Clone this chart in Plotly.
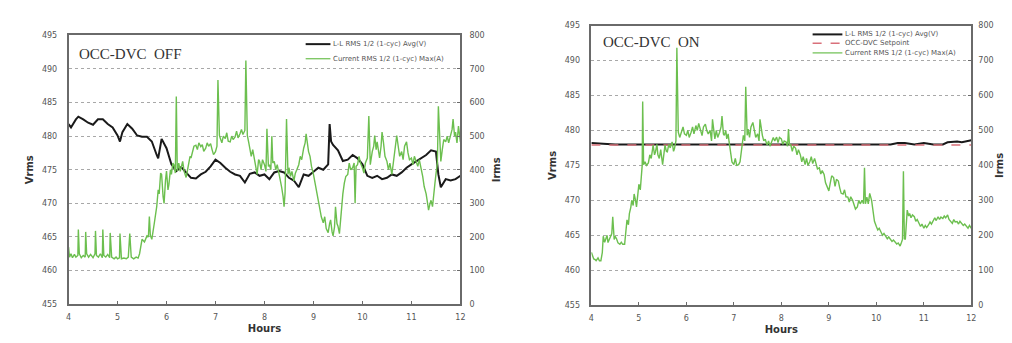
import plotly.graph_objects as go

# ---------------- DATA ----------------
# OCC-DVC OFF : voltage (Vrms, left axis)
off_v_t = [4.0, 4.05, 4.15, 4.2, 4.3, 4.4, 4.5, 4.6, 4.7, 4.8, 4.9, 5.0, 5.05, 5.1, 5.2, 5.3, 5.4, 5.5,
           5.6, 5.7, 5.8, 5.83, 5.9, 6.0, 6.1, 6.2, 6.3, 6.4, 6.5, 6.6, 6.7, 6.8, 6.9, 7.0, 7.1, 7.2,
           7.3, 7.4, 7.5, 7.6, 7.7, 7.8, 7.9, 8.0, 8.1, 8.2, 8.3, 8.4, 8.5, 8.6, 8.7, 8.8, 8.9, 9.0,
           9.1, 9.2, 9.3, 9.33, 9.36, 9.4, 9.5, 9.6, 9.7, 9.8, 9.9, 10.0, 10.1, 10.2, 10.3, 10.4,
           10.5, 10.6, 10.7, 10.8, 10.9, 11.0, 11.1, 11.2, 11.3, 11.4, 11.5, 11.55, 11.6, 11.7,
           11.8, 11.9, 12.0]
off_v = [481.8, 481.3, 482.5, 482.9, 482.5, 482.0, 481.7, 482.5, 482.5, 481.8, 481.3, 480.1, 479.2,
         480.6, 481.8, 481.1, 480.1, 479.9, 479.9, 479.2, 477.2, 476.7, 479.6, 478.2, 475.8, 474.8,
         475.4, 474.6, 473.8, 473.7, 474.3, 474.7, 475.5, 476.5, 476.0, 475.3, 474.7, 474.3, 474.1,
         473.1, 474.4, 474.6, 474.1, 474.3, 473.6, 474.6, 474.8, 474.6, 473.8, 473.4, 472.4, 474.3,
         474.1, 474.7, 475.3, 475.0, 475.8, 481.8, 479.2, 478.7, 477.9, 476.3, 476.5, 477.2, 476.7,
         475.8, 474.1, 473.8, 474.1, 473.6, 473.8, 474.3, 474.1, 474.6, 475.3, 475.8, 476.3, 476.7,
         477.2, 477.9, 477.7, 474.3, 472.4, 473.6, 473.4, 473.6, 474.1]

# OCC-DVC OFF : current (Irms, right axis)
off_i_t = [4.00, 4.02, 4.05, 4.08, 4.12, 4.15, 4.19, 4.20, 4.22, 4.26, 4.30, 4.34, 4.35, 4.37, 4.41,
           4.45, 4.50, 4.54, 4.55, 4.57, 4.61, 4.65, 4.69, 4.70, 4.72, 4.76, 4.80, 4.84, 4.85, 4.88,
           4.93, 4.97, 5.00, 5.04, 5.05, 5.08, 5.13, 5.18, 5.22, 5.25, 5.28, 5.33, 5.38, 5.42, 5.45,
           5.50, 5.55, 5.60, 5.63, 5.65, 5.67, 5.70, 5.75, 5.80, 5.83, 5.85, 5.88, 5.90, 5.93, 5.95,
           5.98, 6.00, 6.03, 6.05, 6.08, 6.10, 6.13, 6.15, 6.18, 6.20, 6.22, 6.25, 6.28, 6.30, 6.33,
           6.36, 6.40, 6.43, 6.45, 6.48, 6.50, 6.53, 6.56, 6.60, 6.63, 6.66, 6.70, 6.73, 6.76, 6.80,
           6.83, 6.86, 6.90, 6.93, 6.96, 7.00, 7.03, 7.05, 7.08, 7.10, 7.13, 7.16, 7.20, 7.23, 7.26,
           7.30, 7.33, 7.36, 7.40, 7.43, 7.46, 7.50, 7.53, 7.56, 7.60, 7.62, 7.65, 7.68, 7.70, 7.73,
           7.76, 7.80, 7.83, 7.85, 7.88, 7.90, 7.93, 7.96, 8.00, 8.03, 8.05, 8.08, 8.10, 8.13, 8.15,
           8.17, 8.20, 8.23, 8.26, 8.30, 8.33, 8.35, 8.38, 8.40, 8.42, 8.45, 8.48, 8.50, 8.53, 8.56,
           8.60, 8.63, 8.66, 8.70, 8.73, 8.76, 8.80, 8.83, 8.85, 8.88, 8.90, 8.93, 8.96, 9.00, 9.03,
           9.06, 9.10, 9.13, 9.16, 9.20, 9.23, 9.26, 9.30, 9.33, 9.35, 9.38, 9.40, 9.43, 9.45, 9.48,
           9.50, 9.53, 9.55, 9.58, 9.60, 9.63, 9.66, 9.70, 9.73, 9.76, 9.80, 9.83, 9.85, 9.87, 9.90,
           9.93, 9.96, 10.00, 10.03, 10.06, 10.10, 10.13, 10.16, 10.20, 10.23, 10.25, 10.28, 10.30,
           10.33, 10.35, 10.38, 10.40, 10.43, 10.46, 10.50, 10.53, 10.56, 10.60, 10.63, 10.66, 10.70,
           10.73, 10.76, 10.80, 10.83, 10.86, 10.90, 10.93, 10.96, 11.00, 11.03, 11.06, 11.10, 11.13,
           11.16, 11.20, 11.23, 11.26, 11.30, 11.33, 11.35, 11.38, 11.40, 11.43, 11.45, 11.48, 11.50,
           11.53, 11.55, 11.58, 11.60, 11.63, 11.66, 11.70, 11.73, 11.76, 11.80, 11.83, 11.85, 11.88,
           11.90, 11.93, 11.96, 12.00]
off_i = [170, 140, 150, 138, 148, 140, 145, 222, 150, 138, 145, 140, 215, 150, 140,
         148, 138, 150, 218, 145, 140, 150, 138, 222, 145, 140, 148, 138, 212, 140,
         135, 140, 135, 138, 210, 135, 137, 135, 140, 210, 140, 135, 140, 137, 150,
         193, 185, 203, 200, 261, 205, 193, 240, 290, 340, 328, 390, 386, 320, 300,
         370, 396, 340, 357, 400, 386, 420, 415, 390, 618, 396, 420, 395, 406, 425,
         395, 377, 400, 415, 440, 435, 455, 470, 473, 460, 480, 469, 475, 455, 464,
         480, 470, 478, 460, 445, 454, 470, 667, 502, 493, 480, 500, 493, 510, 485,
         483, 500, 490, 498, 515, 495, 507, 520, 505, 517, 725, 502, 480, 464, 440,
         460, 425, 410, 386, 430, 425, 400, 430, 415, 395, 522, 410, 415, 400, 500,
         420, 425, 400, 415, 386, 370, 348, 320, 290, 330, 551, 386, 406, 380, 395,
         367, 390, 400, 415, 440, 430, 464, 480, 507, 470, 454, 440, 410, 386, 360,
         340, 309, 280, 260, 242, 260, 225, 213, 240, 251, 215, 203, 230, 290, 240,
         232, 210, 251, 300, 328, 360, 380, 386, 420, 400, 406, 420, 300, 410, 415,
         440, 420, 406, 390, 420, 435, 560, 415, 454, 470, 502, 460, 483,
         450, 435, 470, 512, 480, 440, 425, 400, 420, 386, 420, 450, 502,
         470, 440, 454, 430, 470, 483, 450, 430, 435, 415, 440, 425, 410,
         430, 406, 380, 350, 328, 300, 280, 300, 309, 290, 328, 360, 386,
         420, 589, 464, 425, 460, 490, 483, 500, 480, 502, 520, 551, 500,
         512, 480, 530, 483]

# OCC-DVC ON : voltage and setpoint (Vrms)
on_v_t = [4.0, 4.5, 5.0, 5.5, 6.0, 6.5, 7.0, 7.5, 8.0, 8.5, 9.0, 9.5, 10.0, 10.3, 10.45, 10.6,
          10.8, 11.0, 11.2, 11.4, 11.5, 11.7, 11.8, 11.9, 12.0]
on_v = [478.2, 478.0, 478.0, 478.0, 478.0, 478.0, 478.0, 478.0, 478.0, 478.0, 478.0, 478.0, 478.0,
        478.0, 478.2, 478.2, 478.0, 478.2, 478.0, 478.0, 478.3, 478.4, 478.3, 478.5, 478.6]
on_sp_t = [4.0, 12.0]
on_sp = [477.9, 477.9]

# OCC-DVC ON : current (Irms)
on_i_t = [4.00, 4.02, 4.05, 4.08, 4.10, 4.14, 4.17, 4.20, 4.23, 4.25, 4.28, 4.30, 4.33, 4.35, 4.38,
          4.40, 4.43, 4.45, 4.48, 4.50, 4.53, 4.56, 4.60, 4.63, 4.66, 4.70, 4.73, 4.75, 4.78, 4.80,
          4.83, 4.85, 4.88, 4.90, 4.93, 4.95, 4.98, 5.00, 5.03, 5.05, 5.07, 5.08, 5.10, 5.13, 5.16,
          5.20, 5.23, 5.26, 5.30, 5.33, 5.35, 5.38, 5.40, 5.43, 5.46, 5.50, 5.53, 5.55, 5.58, 5.60,
          5.63, 5.66, 5.70, 5.73, 5.75, 5.78, 5.80, 5.83, 5.86, 5.90, 5.93, 5.96, 6.00, 6.03, 6.06,
          6.10, 6.13, 6.16, 6.20, 6.23, 6.26, 6.30, 6.33, 6.36, 6.40, 6.43, 6.46, 6.50, 6.53, 6.55,
          6.58, 6.60, 6.63, 6.66, 6.70, 6.73, 6.75, 6.78, 6.80, 6.83, 6.85, 6.88, 6.90, 6.93, 6.96,
          7.00, 7.03, 7.06, 7.10, 7.13, 7.16, 7.20, 7.23, 7.25, 7.28, 7.30, 7.33, 7.36, 7.40, 7.43,
          7.46, 7.50, 7.53, 7.55, 7.58, 7.60, 7.63, 7.66, 7.70, 7.73, 7.76, 7.80, 7.83, 7.86, 7.90,
          7.93, 7.96, 8.00, 8.03, 8.06, 8.10, 8.13, 8.15, 8.17, 8.20, 8.23, 8.26, 8.30, 8.33, 8.36,
          8.40, 8.43, 8.46, 8.50, 8.53, 8.56, 8.60, 8.63, 8.66, 8.70, 8.73, 8.76, 8.80, 8.83, 8.86,
          8.90, 8.93, 8.96, 9.00, 9.03, 9.06, 9.10, 9.13, 9.16, 9.20, 9.23, 9.26, 9.30, 9.33, 9.36,
          9.40, 9.43, 9.46, 9.50, 9.53, 9.56, 9.60, 9.63, 9.66, 9.70, 9.73, 9.75, 9.77, 9.80, 9.83,
          9.86, 9.90, 9.93, 9.96, 10.00, 10.03, 10.06, 10.10, 10.13, 10.16, 10.20, 10.23, 10.26,
          10.30, 10.33, 10.36, 10.40, 10.43, 10.46, 10.50, 10.53, 10.55, 10.57, 10.59, 10.61, 10.63,
          10.65, 10.68, 10.70, 10.73, 10.76, 10.80, 10.83, 10.86, 10.90, 10.93, 10.96, 11.00, 11.03,
          11.06, 11.10, 11.13, 11.16, 11.20, 11.23, 11.26, 11.30, 11.33, 11.36, 11.40, 11.43, 11.46,
          11.50, 11.53, 11.56, 11.60, 11.63, 11.66, 11.70, 11.73, 11.76, 11.80, 11.83, 11.86, 11.90,
          11.93, 11.96, 12.00]
on_i = [151, 140, 132, 130, 127, 135, 127, 127, 150, 197, 180, 188, 200, 179, 190,
        197, 205, 253, 188, 197, 190, 178, 174, 180, 174, 174, 210, 244, 230, 262,
        280, 300, 285, 318, 300, 281, 320, 346, 330, 383, 400, 583, 402, 410, 400,
        407, 430, 420, 458, 430, 439, 460, 430, 420, 445, 402, 430, 458, 440, 439,
        460, 450, 467, 440, 448, 470, 737, 495, 480, 495, 510, 490, 486, 500, 480,
        495, 510, 490, 514, 500, 520, 500, 485, 510, 518, 500, 490, 500, 470, 532,
        500, 476, 500, 480, 495, 510, 541, 490, 486, 500, 476, 490, 467, 430, 410,
        402, 420, 400, 402, 410, 450, 486, 470, 625, 486, 504, 480, 510, 523, 500,
        480, 490, 470, 532, 500, 486, 470, 475, 458, 470, 455, 467, 480, 470, 481,
        465, 480, 476, 460, 470, 467, 455, 504, 460, 458, 440, 455, 449, 430, 445,
        430, 410, 425, 402, 420, 400, 411, 425, 405, 420, 400, 390, 393, 375, 385,
        374, 350, 340, 327, 350, 370, 365, 340, 360, 355, 335, 320, 318, 330, 310,
        309, 295, 310, 300, 290, 275, 281, 300, 290, 300, 290, 393, 290, 309, 290,
        320, 300, 260, 240, 225, 215, 220, 207, 200, 205, 197, 190, 195,
        188, 182, 186, 179, 175, 178, 169, 180, 188, 383, 190, 188, 230,
        272, 255, 262, 250, 258, 253, 240, 245, 234, 225, 232, 220, 228,
        222, 230, 238, 232, 244, 250, 242, 253, 245, 252, 248, 255, 250,
        258, 245, 240, 234, 245, 238, 239, 232, 240, 234, 228, 232, 225,
        220, 228, 220]

x_ticks = [4, 5, 6, 7, 8, 9, 10, 11, 12]
v_ticks = [455, 460, 465, 470, 475, 480, 485, 490, 495]
i_ticks = [0, 100, 200, 300, 400, 500, 600, 700, 800]

# legend labels
lbl_v = "L-L RMS 1/2 (1-cyc) Avg(V)"
lbl_sp = "OCC-DVC Setpoint"
lbl_i = "Current RMS 1/2 (1-cyc) Max(A)"

# ---------------- STYLE ----------------
GREEN = "#6cbf4f"
BLACK = "#1a1a1a"
RED = "#d9707a"
FRAME = "#6a6a6a"
TICKC = "#555555"
GRID = "#a8a8a8"
FONT = "DejaVu Sans"

fig = go.Figure()

fig.add_trace(go.Scatter(x=off_v_t, y=off_v, mode="lines", name=lbl_v,
                         line=dict(color=BLACK, width=2), xaxis="x", yaxis="y"))
fig.add_trace(go.Scatter(x=off_i_t, y=off_i, mode="lines", name=lbl_i,
                         line=dict(color=GREEN, width=1.4), xaxis="x", yaxis="y2"))
fig.add_trace(go.Scatter(x=on_v_t, y=on_v, mode="lines", name=lbl_v,
                         line=dict(color=BLACK, width=2), xaxis="x2", yaxis="y3"))
fig.add_trace(go.Scatter(x=on_sp_t, y=on_sp, mode="lines", name=lbl_sp,
                         line=dict(color=RED, width=1.5, dash="dash"), xaxis="x2", yaxis="y3"))
fig.add_trace(go.Scatter(x=on_i_t, y=on_i, mode="lines", name=lbl_i,
                         line=dict(color=GREEN, width=1.4), xaxis="x2", yaxis="y4"))

W, H = 1012, 343
L1, R1, T1, B1 = 58, 453, 24, 300
L2, R2, T2, B2 = 585, 968, 14, 301


def px_x(p):
    return p / W


def px_y(p):
    return (H - p) / H


tickfont = dict(family=FONT, size=8, color=TICKC)
titlefont = dict(family=FONT, size=10, color="#333333", weight="bold")

xcommon = dict(range=[4, 12], tickvals=x_ticks, ticks="inside", ticklen=3, tickcolor=FRAME,
               showline=True, linecolor=FRAME, linewidth=1.5, mirror=True, showgrid=False,
               zeroline=False, tickfont=tickfont, ticklabelstandoff=5,
               title=dict(text="Hours", font=titlefont, standoff=4))
vcommon = dict(range=[455, 495], tickvals=v_ticks, ticks="", showline=True, linecolor=FRAME,
               linewidth=1.5, mirror=True, showgrid=True, gridcolor=GRID, griddash="dot",
               gridwidth=1, zeroline=False, tickfont=tickfont, ticklabelstandoff=8,
               title=dict(text="Vrms", font=titlefont, standoff=6))
icommon = dict(range=[0, 800], tickvals=i_ticks, ticks="inside", ticklen=3, tickcolor=FRAME,
               showline=False, showgrid=False, zeroline=False, tickfont=tickfont,
               side="right")

# legend keys (drawn in paper space, like a chart legend)
leg_font = dict(family=FONT, size=7, color="#555555")
legend_rows = [
    # (x0 px, x1 px, y px, colour, dash, width, label)
    (297, 322, 33, BLACK, "solid", 2, lbl_v),
    (297, 322, 48, GREEN, "solid", 1.2, lbl_i),
    (808, 838, 23, BLACK, "solid", 2, lbl_v),
    (808, 838, 32, RED, "dash", 1.5, lbl_sp),
    (808, 838, 42, GREEN, "solid", 1.2, lbl_i),
]
shapes = []
annotations = []
for x0, x1, yy, col, dsh, wd, lab in legend_rows:
    shapes.append(dict(type="line", xref="paper", yref="paper", x0=px_x(x0), x1=px_x(x1),
                       y0=px_y(yy), y1=px_y(yy), line=dict(color=col, width=wd, dash=dsh)))
    annotations.append(dict(text=lab, x=px_x(x1 + 1), y=px_y(yy), xref="paper", yref="paper",
                            xanchor="left", yanchor="middle", showarrow=False, font=leg_font))

annotations += [
    dict(text="OCC-DVC  OFF", x=px_x(67), y=px_y(43), xref="paper", yref="paper",
         xanchor="left", yanchor="middle", showarrow=False,
         font=dict(family="Liberation Serif", size=15, color="#333333")),
    dict(text="OCC-DVC  ON", x=px_x(595), y=px_y(31), xref="paper", yref="paper",
         xanchor="left", yanchor="middle", showarrow=False,
         font=dict(family="Liberation Serif", size=15, color="#333333")),
]

fig.update_layout(
    width=W, height=H,
    margin=dict(l=0, r=0, t=0, b=0),
    paper_bgcolor="white", plot_bgcolor="white",
    showlegend=False,
    xaxis=dict(domain=[px_x(L1), px_x(R1)], anchor="y", **xcommon),
    yaxis=dict(domain=[px_y(B1), px_y(T1)], anchor="x", **vcommon),
    yaxis2=dict(overlaying="y", anchor="x", ticklabelstandoff=8,
                title=dict(text="Irms", font=titlefont, standoff=9), **icommon),
    xaxis2=dict(domain=[px_x(L2), px_x(R2)], anchor="y3", **xcommon),
    yaxis3=dict(domain=[px_y(B2), px_y(T2)], anchor="x2", **vcommon),
    yaxis4=dict(overlaying="y3", anchor="x2", ticklabelstandoff=6,
                title=dict(text="Irms", font=titlefont, standoff=3), **icommon),
    shapes=shapes,
    annotations=annotations,
)

fig.write_html("out.html")
